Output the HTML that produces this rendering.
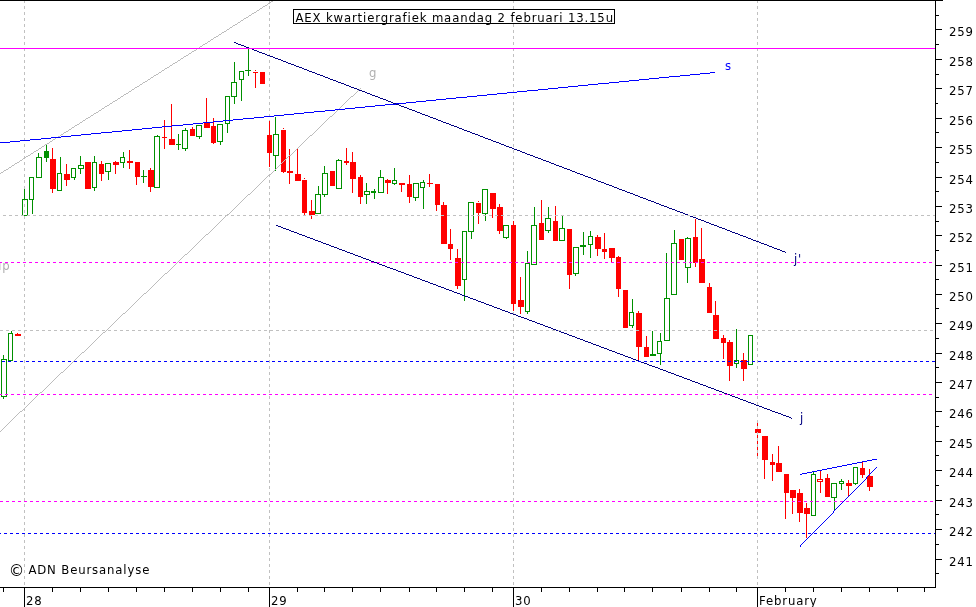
<!DOCTYPE html>
<html lang="nl">
<head>
<meta charset="utf-8">
<title>AEX kwartiergrafiek maandag 2 februari 13.15u</title>
<style>
html,body{margin:0;padding:0;background:#fff;overflow:hidden}
svg{display:block}
text{font-family:"DejaVu Sans","Liberation Sans",sans-serif;font-size:13px;}
</style>
</head>
<body>
<svg width="976" height="607" viewBox="0 0 976 607" shape-rendering="crispEdges">
<rect x="0" y="0" width="976" height="607" fill="#fff"/>
<g id="daygrid">
<line x1="24.5" y1="0" x2="24.5" y2="587" stroke="#c0c0c0" stroke-width="1" stroke-dasharray="3 3" stroke-dashoffset="0"/>
<line x1="269.5" y1="0" x2="269.5" y2="587" stroke="#c0c0c0" stroke-width="1" stroke-dasharray="3 3" stroke-dashoffset="0"/>
<line x1="513.5" y1="0" x2="513.5" y2="587" stroke="#c0c0c0" stroke-width="1" stroke-dasharray="3 3" stroke-dashoffset="0"/>
<line x1="757.5" y1="0" x2="757.5" y2="587" stroke="#c0c0c0" stroke-width="1" stroke-dasharray="3 3" stroke-dashoffset="0"/>
</g>
<g id="candles">
<rect x="3" y="355" width="1" height="4" fill="#009000"/>
<rect x="3" y="397" width="1" height="2" fill="#009000"/>
<rect x="1.5" y="359.5" width="5" height="37" fill="none" stroke="#009000" stroke-width="1"/>
<rect x="11" y="331" width="1" height="2" fill="#009000"/>
<rect x="8.5" y="333.5" width="4" height="27" fill="none" stroke="#009000" stroke-width="1"/>
<rect x="17" y="333" width="1" height="3" fill="#ff0000"/>
<rect x="15" y="334" width="6" height="2" fill="#ff0000"/>
<rect x="24" y="189" width="1" height="10" fill="#009000"/>
<rect x="22.5" y="199.5" width="5" height="16" fill="none" stroke="#009000" stroke-width="1"/>
<rect x="32" y="200" width="1" height="14" fill="#009000"/>
<rect x="29.5" y="177.5" width="4" height="22" fill="none" stroke="#009000" stroke-width="1"/>
<rect x="38" y="153" width="1" height="4" fill="#009000"/>
<rect x="36.5" y="157.5" width="5" height="20" fill="none" stroke="#009000" stroke-width="1"/>
<rect x="46" y="145" width="1" height="17" fill="#009000"/>
<rect x="44" y="151" width="5" height="7" fill="#009000"/>
<rect x="52" y="148" width="1" height="45" fill="#ff0000"/>
<rect x="50" y="159" width="6" height="30" fill="#ff0000"/>
<rect x="60" y="157" width="1" height="16" fill="#009000"/>
<rect x="57.5" y="173.5" width="4" height="17" fill="none" stroke="#009000" stroke-width="1"/>
<rect x="66" y="164" width="1" height="22" fill="#ff0000"/>
<rect x="64" y="174" width="6" height="6" fill="#ff0000"/>
<rect x="74" y="178" width="1" height="2" fill="#009000"/>
<rect x="71.5" y="168.5" width="4" height="9" fill="none" stroke="#009000" stroke-width="1"/>
<rect x="80" y="156" width="1" height="9" fill="#009000"/>
<rect x="80" y="169" width="1" height="5" fill="#009000"/>
<rect x="78.5" y="165.5" width="5" height="3" fill="none" stroke="#009000" stroke-width="1"/>
<rect x="85" y="162" width="6" height="27" fill="#ff0000"/>
<rect x="94" y="156" width="1" height="6" fill="#009000"/>
<rect x="94" y="188" width="1" height="3" fill="#009000"/>
<rect x="92.5" y="162.5" width="4" height="25" fill="none" stroke="#009000" stroke-width="1"/>
<rect x="101" y="161" width="1" height="20" fill="#ff0000"/>
<rect x="99" y="164" width="5" height="10" fill="#ff0000"/>
<rect x="108" y="172" width="1" height="8" fill="#009000"/>
<rect x="105.5" y="163.5" width="5" height="8" fill="none" stroke="#009000" stroke-width="1"/>
<rect x="115" y="161" width="1" height="13" fill="#ff0000"/>
<rect x="113" y="162" width="6" height="3" fill="#ff0000"/>
<rect x="123" y="152" width="1" height="5" fill="#009000"/>
<rect x="123" y="163" width="1" height="5" fill="#009000"/>
<rect x="120.5" y="157.5" width="4" height="5" fill="none" stroke="#009000" stroke-width="1"/>
<rect x="129" y="150" width="1" height="19" fill="#ff0000"/>
<rect x="127" y="161" width="6" height="2" fill="#ff0000"/>
<rect x="136" y="162" width="1" height="23" fill="#ff0000"/>
<rect x="135" y="162" width="5" height="15" fill="#ff0000"/>
<rect x="143" y="170" width="1" height="13" fill="#009000"/>
<rect x="141" y="176" width="6" height="1" fill="#009000"/>
<rect x="150" y="168" width="1" height="24" fill="#ff0000"/>
<rect x="148" y="170" width="6" height="17" fill="#ff0000"/>
<rect x="157" y="135" width="1" height="1" fill="#009000"/>
<rect x="154.5" y="136.5" width="5" height="51" fill="none" stroke="#009000" stroke-width="1"/>
<rect x="164" y="120" width="1" height="29" fill="#ff0000"/>
<rect x="162" y="137" width="5" height="1" fill="#ff0000"/>
<rect x="171" y="104" width="1" height="41" fill="#ff0000"/>
<rect x="169" y="139" width="6" height="6" fill="#ff0000"/>
<rect x="178" y="134" width="1" height="16" fill="#009000"/>
<rect x="176" y="144" width="5" height="1" fill="#009000"/>
<rect x="185" y="128" width="1" height="2" fill="#009000"/>
<rect x="185" y="149" width="1" height="2" fill="#009000"/>
<rect x="182.5" y="130.5" width="5" height="18" fill="none" stroke="#009000" stroke-width="1"/>
<rect x="192" y="127" width="1" height="9" fill="#ff0000"/>
<rect x="190" y="129" width="5" height="7" fill="#ff0000"/>
<rect x="199" y="137" width="1" height="2" fill="#009000"/>
<rect x="196.5" y="125.5" width="5" height="11" fill="none" stroke="#009000" stroke-width="1"/>
<rect x="206" y="98" width="1" height="30" fill="#ff0000"/>
<rect x="204" y="122" width="6" height="6" fill="#ff0000"/>
<rect x="213" y="118" width="1" height="26" fill="#ff0000"/>
<rect x="211" y="126" width="5" height="17" fill="#ff0000"/>
<rect x="220" y="142" width="1" height="3" fill="#009000"/>
<rect x="217.5" y="124.5" width="5" height="17" fill="none" stroke="#009000" stroke-width="1"/>
<rect x="227" y="124" width="1" height="9" fill="#009000"/>
<rect x="225.5" y="96.5" width="4" height="27" fill="none" stroke="#009000" stroke-width="1"/>
<rect x="234" y="62" width="1" height="20" fill="#009000"/>
<rect x="234" y="97" width="1" height="7" fill="#009000"/>
<rect x="231.5" y="82.5" width="5" height="14" fill="none" stroke="#009000" stroke-width="1"/>
<rect x="241" y="80" width="1" height="21" fill="#009000"/>
<rect x="239.5" y="71.5" width="4" height="8" fill="none" stroke="#009000" stroke-width="1"/>
<rect x="248" y="48" width="1" height="28" fill="#009000"/>
<rect x="245" y="70" width="6" height="1" fill="#009000"/>
<rect x="255" y="70" width="1" height="1" fill="#ff0000"/>
<rect x="255" y="72" width="1" height="16" fill="#ff0000"/>
<rect x="253" y="72" width="5" height="1" fill="#ff0000"/>
<rect x="260" y="72" width="5" height="12" fill="#ff0000"/>
<rect x="269" y="121" width="1" height="46" fill="#ff0000"/>
<rect x="267" y="135" width="5" height="18" fill="#ff0000"/>
<rect x="275" y="117" width="1" height="17" fill="#009000"/>
<rect x="275" y="156" width="1" height="15" fill="#009000"/>
<rect x="273.5" y="134.5" width="5" height="21" fill="none" stroke="#009000" stroke-width="1"/>
<rect x="283" y="128" width="1" height="1" fill="#ff0000"/>
<rect x="283" y="130" width="1" height="43" fill="#ff0000"/>
<rect x="281" y="130" width="5" height="42" fill="#ff0000"/>
<rect x="289" y="149" width="1" height="35" fill="#ff0000"/>
<rect x="287" y="171" width="6" height="2" fill="#ff0000"/>
<rect x="297" y="149" width="1" height="32" fill="#ff0000"/>
<rect x="295" y="174" width="6" height="7" fill="#ff0000"/>
<rect x="304" y="178" width="1" height="1" fill="#ff0000"/>
<rect x="304" y="180" width="1" height="35" fill="#ff0000"/>
<rect x="302" y="180" width="5" height="33" fill="#ff0000"/>
<rect x="311" y="200" width="1" height="19" fill="#ff0000"/>
<rect x="309" y="211" width="6" height="4" fill="#ff0000"/>
<rect x="318" y="186" width="1" height="8" fill="#009000"/>
<rect x="315.5" y="194.5" width="5" height="19" fill="none" stroke="#009000" stroke-width="1"/>
<rect x="324" y="166" width="1" height="7" fill="#009000"/>
<rect x="324" y="195" width="1" height="2" fill="#009000"/>
<rect x="322.5" y="173.5" width="5" height="21" fill="none" stroke="#009000" stroke-width="1"/>
<rect x="330" y="171" width="5" height="15" fill="#ff0000"/>
<rect x="338" y="159" width="1" height="1" fill="#009000"/>
<rect x="336.5" y="160.5" width="5" height="28" fill="none" stroke="#009000" stroke-width="1"/>
<rect x="346" y="148" width="1" height="17" fill="#ff0000"/>
<rect x="344" y="161" width="5" height="2" fill="#ff0000"/>
<rect x="352" y="152" width="1" height="41" fill="#ff0000"/>
<rect x="350" y="162" width="6" height="17" fill="#ff0000"/>
<rect x="360" y="175" width="1" height="29" fill="#ff0000"/>
<rect x="358" y="177" width="5" height="20" fill="#ff0000"/>
<rect x="366" y="183" width="1" height="8" fill="#009000"/>
<rect x="366" y="195" width="1" height="9" fill="#009000"/>
<rect x="364.5" y="191.5" width="5" height="3" fill="none" stroke="#009000" stroke-width="1"/>
<rect x="374" y="189" width="1" height="10" fill="#009000"/>
<rect x="371" y="191" width="5" height="2" fill="#009000"/>
<rect x="380" y="170" width="1" height="7" fill="#009000"/>
<rect x="378.5" y="177.5" width="5" height="15" fill="none" stroke="#009000" stroke-width="1"/>
<rect x="387" y="179" width="1" height="15" fill="#ff0000"/>
<rect x="385" y="180" width="6" height="3" fill="#ff0000"/>
<rect x="394" y="168" width="1" height="12" fill="#009000"/>
<rect x="394" y="184" width="1" height="1" fill="#009000"/>
<rect x="392.5" y="180.5" width="4" height="3" fill="none" stroke="#009000" stroke-width="1"/>
<rect x="401" y="183" width="1" height="9" fill="#ff0000"/>
<rect x="399" y="183" width="6" height="2" fill="#ff0000"/>
<rect x="409" y="175" width="1" height="28" fill="#ff0000"/>
<rect x="407" y="184" width="5" height="13" fill="#ff0000"/>
<rect x="415" y="198" width="1" height="3" fill="#009000"/>
<rect x="413.5" y="183.5" width="5" height="14" fill="none" stroke="#009000" stroke-width="1"/>
<rect x="423" y="180" width="1" height="2" fill="#009000"/>
<rect x="423" y="188" width="1" height="21" fill="#009000"/>
<rect x="420.5" y="182.5" width="4" height="5" fill="none" stroke="#009000" stroke-width="1"/>
<rect x="429" y="174" width="1" height="13" fill="#ff0000"/>
<rect x="427" y="183" width="6" height="1" fill="#ff0000"/>
<rect x="436" y="184" width="1" height="27" fill="#ff0000"/>
<rect x="435" y="184" width="5" height="21" fill="#ff0000"/>
<rect x="443" y="202" width="1" height="42" fill="#ff0000"/>
<rect x="441" y="205" width="6" height="39" fill="#ff0000"/>
<rect x="450" y="229" width="1" height="31" fill="#ff0000"/>
<rect x="448" y="244" width="5" height="5" fill="#ff0000"/>
<rect x="457" y="249" width="1" height="40" fill="#ff0000"/>
<rect x="455" y="258" width="6" height="28" fill="#ff0000"/>
<rect x="464" y="280" width="1" height="21" fill="#009000"/>
<rect x="462.5" y="231.5" width="4" height="48" fill="none" stroke="#009000" stroke-width="1"/>
<rect x="471" y="232" width="1" height="7" fill="#009000"/>
<rect x="468.5" y="202.5" width="5" height="29" fill="none" stroke="#009000" stroke-width="1"/>
<rect x="478" y="201" width="1" height="1" fill="#ff0000"/>
<rect x="478" y="203" width="1" height="21" fill="#ff0000"/>
<rect x="476" y="203" width="5" height="10" fill="#ff0000"/>
<rect x="485" y="214" width="1" height="7" fill="#009000"/>
<rect x="482.5" y="189.5" width="5" height="24" fill="none" stroke="#009000" stroke-width="1"/>
<rect x="492" y="193" width="1" height="25" fill="#ff0000"/>
<rect x="490" y="193" width="6" height="16" fill="#ff0000"/>
<rect x="499" y="204" width="1" height="30" fill="#ff0000"/>
<rect x="497" y="207" width="6" height="24" fill="#ff0000"/>
<rect x="506" y="238" width="1" height="1" fill="#009000"/>
<rect x="503.5" y="225.5" width="5" height="12" fill="none" stroke="#009000" stroke-width="1"/>
<rect x="513" y="221" width="1" height="90" fill="#ff0000"/>
<rect x="511" y="225" width="5" height="79" fill="#ff0000"/>
<rect x="520" y="277" width="1" height="37" fill="#ff0000"/>
<rect x="518" y="300" width="6" height="7" fill="#ff0000"/>
<rect x="527" y="251" width="1" height="12" fill="#009000"/>
<rect x="527" y="312" width="1" height="2" fill="#009000"/>
<rect x="525.5" y="263.5" width="4" height="48" fill="none" stroke="#009000" stroke-width="1"/>
<rect x="534" y="207" width="1" height="18" fill="#009000"/>
<rect x="531.5" y="225.5" width="5" height="39" fill="none" stroke="#009000" stroke-width="1"/>
<rect x="541" y="200" width="1" height="40" fill="#ff0000"/>
<rect x="539" y="223" width="5" height="17" fill="#ff0000"/>
<rect x="548" y="207" width="1" height="11" fill="#009000"/>
<rect x="548" y="231" width="1" height="2" fill="#009000"/>
<rect x="545.5" y="218.5" width="5" height="12" fill="none" stroke="#009000" stroke-width="1"/>
<rect x="555" y="206" width="1" height="35" fill="#ff0000"/>
<rect x="553" y="221" width="5" height="20" fill="#ff0000"/>
<rect x="562" y="216" width="1" height="12" fill="#009000"/>
<rect x="559.5" y="228.5" width="5" height="12" fill="none" stroke="#009000" stroke-width="1"/>
<rect x="569" y="229" width="1" height="60" fill="#ff0000"/>
<rect x="567" y="229" width="5" height="46" fill="#ff0000"/>
<rect x="575" y="274" width="1" height="2" fill="#009000"/>
<rect x="573.5" y="247.5" width="5" height="26" fill="none" stroke="#009000" stroke-width="1"/>
<rect x="583" y="232" width="1" height="23" fill="#009000"/>
<rect x="580" y="245" width="6" height="2" fill="#009000"/>
<rect x="590" y="231" width="1" height="5" fill="#009000"/>
<rect x="590" y="245" width="1" height="13" fill="#009000"/>
<rect x="588.5" y="236.5" width="4" height="8" fill="none" stroke="#009000" stroke-width="1"/>
<rect x="597" y="235" width="1" height="21" fill="#ff0000"/>
<rect x="595" y="237" width="6" height="12" fill="#ff0000"/>
<rect x="604" y="233" width="1" height="26" fill="#ff0000"/>
<rect x="602" y="249" width="5" height="3" fill="#ff0000"/>
<rect x="611" y="248" width="1" height="14" fill="#ff0000"/>
<rect x="609" y="248" width="6" height="10" fill="#ff0000"/>
<rect x="618" y="256" width="1" height="41" fill="#ff0000"/>
<rect x="616" y="257" width="5" height="32" fill="#ff0000"/>
<rect x="623" y="290" width="5" height="38" fill="#ff0000"/>
<rect x="632" y="299" width="1" height="13" fill="#009000"/>
<rect x="632" y="326" width="1" height="2" fill="#009000"/>
<rect x="629.5" y="312.5" width="4" height="13" fill="none" stroke="#009000" stroke-width="1"/>
<rect x="638" y="311" width="1" height="50" fill="#ff0000"/>
<rect x="636" y="313" width="6" height="34" fill="#ff0000"/>
<rect x="646" y="336" width="1" height="21" fill="#ff0000"/>
<rect x="644" y="347" width="5" height="10" fill="#ff0000"/>
<rect x="652" y="331" width="1" height="25" fill="#009000"/>
<rect x="650" y="354" width="6" height="2" fill="#009000"/>
<rect x="660" y="333" width="1" height="8" fill="#009000"/>
<rect x="660" y="354" width="1" height="11" fill="#009000"/>
<rect x="657.5" y="341.5" width="4" height="12" fill="none" stroke="#009000" stroke-width="1"/>
<rect x="666" y="253" width="1" height="45" fill="#009000"/>
<rect x="664.5" y="298.5" width="5" height="42" fill="none" stroke="#009000" stroke-width="1"/>
<rect x="674" y="230" width="1" height="13" fill="#009000"/>
<rect x="671.5" y="243.5" width="5" height="51" fill="none" stroke="#009000" stroke-width="1"/>
<rect x="679" y="239" width="5" height="21" fill="#ff0000"/>
<rect x="687" y="237" width="1" height="1" fill="#009000"/>
<rect x="687" y="268" width="1" height="15" fill="#009000"/>
<rect x="685.5" y="238.5" width="5" height="29" fill="none" stroke="#009000" stroke-width="1"/>
<rect x="695" y="219" width="1" height="48" fill="#ff0000"/>
<rect x="693" y="237" width="5" height="26" fill="#ff0000"/>
<rect x="701" y="228" width="1" height="55" fill="#ff0000"/>
<rect x="699" y="259" width="6" height="24" fill="#ff0000"/>
<rect x="709" y="283" width="1" height="30" fill="#ff0000"/>
<rect x="707" y="287" width="5" height="26" fill="#ff0000"/>
<rect x="715" y="301" width="1" height="38" fill="#ff0000"/>
<rect x="713" y="315" width="6" height="24" fill="#ff0000"/>
<rect x="723" y="335" width="1" height="24" fill="#ff0000"/>
<rect x="721" y="338" width="5" height="5" fill="#ff0000"/>
<rect x="729" y="340" width="1" height="41" fill="#ff0000"/>
<rect x="727" y="342" width="6" height="24" fill="#ff0000"/>
<rect x="736" y="329" width="1" height="31" fill="#009000"/>
<rect x="736" y="364" width="1" height="4" fill="#009000"/>
<rect x="734.5" y="360.5" width="4" height="3" fill="none" stroke="#009000" stroke-width="1"/>
<rect x="743" y="353" width="1" height="28" fill="#ff0000"/>
<rect x="741" y="360" width="6" height="9" fill="#ff0000"/>
<rect x="748.5" y="335.5" width="4" height="29" fill="none" stroke="#009000" stroke-width="1"/>
<rect x="757" y="423" width="1" height="34" fill="#ff0000"/>
<rect x="755" y="429" width="6" height="4" fill="#ff0000"/>
<rect x="757" y="426" width="1" height="3" fill="#c0c0c0"/>
<rect x="757" y="432" width="1" height="3" fill="#c0c0c0"/>
<rect x="757" y="438" width="1" height="3" fill="#c0c0c0"/>
<rect x="757" y="444" width="1" height="3" fill="#c0c0c0"/>
<rect x="757" y="450" width="1" height="3" fill="#c0c0c0"/>
<rect x="757" y="456" width="1" height="1" fill="#c0c0c0"/>
<rect x="764" y="436" width="1" height="43" fill="#ff0000"/>
<rect x="762" y="436" width="6" height="24" fill="#ff0000"/>
<rect x="772" y="454" width="1" height="27" fill="#ff0000"/>
<rect x="770" y="462" width="5" height="3" fill="#ff0000"/>
<rect x="778" y="446" width="1" height="26" fill="#ff0000"/>
<rect x="776" y="463" width="6" height="9" fill="#ff0000"/>
<rect x="785" y="474" width="1" height="45" fill="#ff0000"/>
<rect x="784" y="474" width="5" height="19" fill="#ff0000"/>
<rect x="792" y="490" width="1" height="24" fill="#ff0000"/>
<rect x="790" y="490" width="6" height="8" fill="#ff0000"/>
<rect x="799" y="489" width="1" height="33" fill="#ff0000"/>
<rect x="797" y="493" width="6" height="20" fill="#ff0000"/>
<rect x="806" y="503" width="1" height="35" fill="#ff0000"/>
<rect x="804" y="508" width="6" height="6" fill="#ff0000"/>
<rect x="813" y="472" width="1" height="2" fill="#009000"/>
<rect x="811.5" y="474.5" width="4" height="41" fill="none" stroke="#009000" stroke-width="1"/>
<rect x="820" y="471" width="1" height="8" fill="#ff0000"/>
<rect x="820" y="482" width="1" height="11" fill="#ff0000"/>
<rect x="817.5" y="479.5" width="5" height="2" fill="none" stroke="#ff0000" stroke-width="1"/>
<rect x="827" y="474" width="1" height="23" fill="#ff0000"/>
<rect x="825" y="478" width="5" height="19" fill="#ff0000"/>
<rect x="834" y="498" width="1" height="12" fill="#009000"/>
<rect x="831.5" y="483.5" width="5" height="14" fill="none" stroke="#009000" stroke-width="1"/>
<rect x="841" y="479" width="1" height="2" fill="#009000"/>
<rect x="841" y="484" width="1" height="6" fill="#009000"/>
<rect x="839.5" y="481.5" width="4" height="2" fill="none" stroke="#009000" stroke-width="1"/>
<rect x="848" y="480" width="1" height="16" fill="#ff0000"/>
<rect x="846" y="483" width="6" height="3" fill="#ff0000"/>
<rect x="855" y="484" width="1" height="1" fill="#009000"/>
<rect x="853.5" y="467.5" width="4" height="16" fill="none" stroke="#009000" stroke-width="1"/>
<rect x="862" y="462" width="1" height="16" fill="#ff0000"/>
<rect x="860" y="468" width="5" height="7" fill="#ff0000"/>
<rect x="869" y="469" width="1" height="22" fill="#ff0000"/>
<rect x="867" y="476" width="6" height="11" fill="#ff0000"/>
</g>
<g id="trend">
<path d="M0 173.5h1M1 172.5h2M3 171.5h1M4 170.5h2M6 169.5h2M8 168.5h1M9 167.5h2M11 166.5h1M12 165.5h2M14 164.5h1M15 163.5h2M17 162.5h2M19 161.5h1M20 160.5h2M22 159.5h1M23 158.5h2M25 157.5h1M26 156.5h2M28 155.5h2M30 154.5h1M31 153.5h2M33 152.5h1M34 151.5h2M36 150.5h2M38 149.5h1M39 148.5h2M41 147.5h1M42 146.5h2M44 145.5h1M45 144.5h2M47 143.5h2M49 142.5h1M50 141.5h2M52 140.5h1M53 139.5h2M55 138.5h1M56 137.5h2M58 136.5h2M60 135.5h1M61 134.5h2M63 133.5h1M64 132.5h2M66 131.5h2M68 130.5h1M69 129.5h2M71 128.5h1M72 127.5h2M74 126.5h1M75 125.5h2M77 124.5h2M79 123.5h1M80 122.5h2M82 121.5h1M83 120.5h2M85 119.5h1M86 118.5h2M88 117.5h2M90 116.5h1M91 115.5h2M93 114.5h1M94 113.5h2M96 112.5h2M98 111.5h1M99 110.5h2M101 109.5h1M102 108.5h2M104 107.5h1M105 106.5h2M107 105.5h2M109 104.5h1M110 103.5h2M112 102.5h1M113 101.5h2M115 100.5h2M117 99.5h1M118 98.5h2M120 97.5h1M121 96.5h2M123 95.5h1M124 94.5h2M126 93.5h2M128 92.5h1M129 91.5h2M131 90.5h1M132 89.5h2M134 88.5h1M135 87.5h2M137 86.5h2M139 85.5h1M140 84.5h2M142 83.5h1M143 82.5h2M145 81.5h2M147 80.5h1M148 79.5h2M150 78.5h1M151 77.5h2M153 76.5h1M154 75.5h2M156 74.5h2M158 73.5h1M159 72.5h2M161 71.5h1M162 70.5h2M164 69.5h1M165 68.5h2M167 67.5h2M169 66.5h1M170 65.5h2M172 64.5h1M173 63.5h2M175 62.5h2M177 61.5h1M178 60.5h2M180 59.5h1M181 58.5h2M183 57.5h1M184 56.5h2M186 55.5h2M188 54.5h1M189 53.5h2M191 52.5h1M192 51.5h2M194 50.5h2M196 49.5h1M197 48.5h2M199 47.5h1M200 46.5h2M202 45.5h1M203 44.5h2M205 43.5h2M207 42.5h1M208 41.5h2M210 40.5h1M211 39.5h2M213 38.5h1M214 37.5h2M216 36.5h2M218 35.5h1M219 34.5h2M221 33.5h1M222 32.5h2M224 31.5h2M226 30.5h1M227 29.5h2M229 28.5h1M230 27.5h2M232 26.5h1M233 25.5h2M235 24.5h2M237 23.5h1M238 22.5h2M240 21.5h1M241 20.5h2M243 19.5h1M244 18.5h2M246 17.5h2M248 16.5h1M249 15.5h2M251 14.5h1M252 13.5h2M254 12.5h2M256 11.5h1M257 10.5h2M259 9.5h1M260 8.5h2M262 7.5h1M263 6.5h2M265 5.5h2M267 4.5h1M268 3.5h2M270 2.5h1M271 1.5h2M273 0.5h2" stroke="#bcbcbc" stroke-width="1" fill="none"/>
<path d="M0 431.5h1M1 430.5h1M2 429.5h1M3 428.5h1M4 427.5h1M5 426.5h1M6 425.5h1M7 424.5h1M8 423.5h1M9 422.5h1M10 421.5h1M11 420.5h1M12 419.5h1M13 418.5h1M14 417.5h1M15 416.5h1M16 415.5h1M17 414.5h1M18 413.5h1M19 412.5h1M20 411.5h2M22 410.5h1M23 409.5h1M24 408.5h1M25 407.5h1M26 406.5h1M27 405.5h1M28 404.5h1M29 403.5h1M30 402.5h1M31 401.5h1M32 400.5h1M33 399.5h1M34 398.5h1M35 397.5h1M36 396.5h1M37 395.5h1M38 394.5h1M39 393.5h1M40 392.5h2M42 391.5h1M43 390.5h1M44 389.5h1M45 388.5h1M46 387.5h1M47 386.5h1M48 385.5h1M49 384.5h1M50 383.5h1M51 382.5h1M52 381.5h1M53 380.5h1M54 379.5h1M55 378.5h1M56 377.5h1M57 376.5h1M58 375.5h1M59 374.5h1M60 373.5h1M61 372.5h2M63 371.5h1M64 370.5h1M65 369.5h1M66 368.5h1M67 367.5h1M68 366.5h1M69 365.5h1M70 364.5h1M71 363.5h1M72 362.5h1M73 361.5h1M74 360.5h1M75 359.5h1M76 358.5h1M77 357.5h1M78 356.5h1M79 355.5h1M80 354.5h1M81 353.5h1M82 352.5h2M84 351.5h1M85 350.5h1M86 349.5h1M87 348.5h1M88 347.5h1M89 346.5h1M90 345.5h1M91 344.5h1M92 343.5h1M93 342.5h1M94 341.5h1M95 340.5h1M96 339.5h1M97 338.5h1M98 337.5h1M99 336.5h1M100 335.5h1M101 334.5h1M102 333.5h1M103 332.5h2M105 331.5h1M106 330.5h1M107 329.5h1M108 328.5h1M109 327.5h1M110 326.5h1M111 325.5h1M112 324.5h1M113 323.5h1M114 322.5h1M115 321.5h1M116 320.5h1M117 319.5h1M118 318.5h1M119 317.5h1M120 316.5h1M121 315.5h1M122 314.5h1M123 313.5h2M125 312.5h1M126 311.5h1M127 310.5h1M128 309.5h1M129 308.5h1M130 307.5h1M131 306.5h1M132 305.5h1M133 304.5h1M134 303.5h1M135 302.5h1M136 301.5h1M137 300.5h1M138 299.5h1M139 298.5h1M140 297.5h1M141 296.5h1M142 295.5h1M143 294.5h1M144 293.5h2M146 292.5h1M147 291.5h1M148 290.5h1M149 289.5h1M150 288.5h1M151 287.5h1M152 286.5h1M153 285.5h1M154 284.5h1M155 283.5h1M156 282.5h1M157 281.5h1M158 280.5h1M159 279.5h1M160 278.5h1M161 277.5h1M162 276.5h1M163 275.5h1M164 274.5h1M165 273.5h2M167 272.5h1M168 271.5h1M169 270.5h1M170 269.5h1M171 268.5h1M172 267.5h1M173 266.5h1M174 265.5h1M175 264.5h1M176 263.5h1M177 262.5h1M178 261.5h1M179 260.5h1M180 259.5h1M181 258.5h1M182 257.5h1M183 256.5h1M184 255.5h1M185 254.5h2M187 253.5h1M188 252.5h1M189 251.5h1M190 250.5h1M191 249.5h1M192 248.5h1M193 247.5h1M194 246.5h1M195 245.5h1M196 244.5h1M197 243.5h1M198 242.5h1M199 241.5h1M200 240.5h1M201 239.5h1M202 238.5h1M203 237.5h1M204 236.5h1M205 235.5h1M206 234.5h2M208 233.5h1M209 232.5h1M210 231.5h1M211 230.5h1M212 229.5h1M213 228.5h1M214 227.5h1M215 226.5h1M216 225.5h1M217 224.5h1M218 223.5h1M219 222.5h1M220 221.5h1M221 220.5h1M222 219.5h1M223 218.5h1M224 217.5h1M225 216.5h1M226 215.5h1M227 214.5h2M229 213.5h1M230 212.5h1M231 211.5h1M232 210.5h1M233 209.5h1M234 208.5h1M235 207.5h1M236 206.5h1M237 205.5h1M238 204.5h1M239 203.5h1M240 202.5h1M241 201.5h1M242 200.5h1M243 199.5h1M244 198.5h1M245 197.5h1M246 196.5h1M247 195.5h1M248 194.5h2M250 193.5h1M251 192.5h1M252 191.5h1M253 190.5h1M254 189.5h1M255 188.5h1M256 187.5h1M257 186.5h1M258 185.5h1M259 184.5h1M260 183.5h1M261 182.5h1M262 181.5h1M263 180.5h1M264 179.5h1M265 178.5h1M266 177.5h1M267 176.5h1M268 175.5h2M270 174.5h1M271 173.5h1M272 172.5h1M273 171.5h1M274 170.5h1M275 169.5h1M276 168.5h1M277 167.5h1M278 166.5h1M279 165.5h1M280 164.5h1M281 163.5h1M282 162.5h1M283 161.5h1M284 160.5h1M285 159.5h1M286 158.5h1M287 157.5h1M288 156.5h1M289 155.5h2M291 154.5h1M292 153.5h1M293 152.5h1M294 151.5h1M295 150.5h1M296 149.5h1M297 148.5h1M298 147.5h1M299 146.5h1M300 145.5h1M301 144.5h1M302 143.5h1M303 142.5h1M304 141.5h1M305 140.5h1M306 139.5h1M307 138.5h1M308 137.5h1M309 136.5h1M310 135.5h2M312 134.5h1M313 133.5h1M314 132.5h1M315 131.5h1M316 130.5h1M317 129.5h1M318 128.5h1M319 127.5h1M320 126.5h1M321 125.5h1M322 124.5h1M323 123.5h1M324 122.5h1M325 121.5h1M326 120.5h1M327 119.5h1M328 118.5h1M329 117.5h1M330 116.5h2M332 115.5h1M333 114.5h1M334 113.5h1M335 112.5h1M336 111.5h1M337 110.5h1M338 109.5h1M339 108.5h1M340 107.5h1M341 106.5h1M342 105.5h1M343 104.5h1M344 103.5h1M345 102.5h1M346 101.5h1M347 100.5h1M348 99.5h1M349 98.5h1M350 97.5h1M351 96.5h2M353 95.5h1M354 94.5h1M355 93.5h1M356 92.5h1M357 91.5h1M358 90.5h1M359 89.5h1M360 88.5h1" stroke="#bcbcbc" stroke-width="1" fill="none"/>
<path d="M0 142.5h10M10 141.5h10M20 140.5h10M30 139.5h11M41 138.5h10M51 137.5h10M61 136.5h10M71 135.5h10M81 134.5h10M91 133.5h10M101 132.5h11M112 131.5h10M122 130.5h10M132 129.5h10M142 128.5h10M152 127.5h10M162 126.5h10M172 125.5h11M183 124.5h10M193 123.5h10M203 122.5h10M213 121.5h10M223 120.5h10M233 119.5h10M243 118.5h11M254 117.5h10M264 116.5h10M274 115.5h10M284 114.5h10M294 113.5h10M304 112.5h10M314 111.5h11M325 110.5h10M335 109.5h10M345 108.5h10M355 107.5h10M365 106.5h10M375 105.5h10M385 104.5h11M396 103.5h10M406 102.5h10M416 101.5h10M426 100.5h10M436 99.5h10M446 98.5h10M456 97.5h11M467 96.5h10M477 95.5h10M487 94.5h10M497 93.5h10M507 92.5h10M517 91.5h10M527 90.5h11M538 89.5h10M548 88.5h10M558 87.5h10M568 86.5h10M578 85.5h10M588 84.5h10M598 83.5h11M609 82.5h10M619 81.5h10M629 80.5h10M639 79.5h10M649 78.5h10M659 77.5h10M669 76.5h11M680 75.5h10M690 74.5h10M700 73.5h10M710 72.5h5" stroke="#0000ff" stroke-width="1" fill="none"/>
<path d="M234 42.5h2M236 43.5h2M238 44.5h3M241 45.5h3M244 46.5h2M246 47.5h3M249 48.5h3M252 49.5h2M254 50.5h3M257 51.5h2M259 52.5h3M262 53.5h3M265 54.5h2M267 55.5h3M270 56.5h3M273 57.5h2M275 58.5h3M278 59.5h3M281 60.5h2M283 61.5h3M286 62.5h2M288 63.5h3M291 64.5h3M294 65.5h2M296 66.5h3M299 67.5h3M302 68.5h2M304 69.5h3M307 70.5h2M309 71.5h3M312 72.5h3M315 73.5h2M317 74.5h3M320 75.5h3M323 76.5h2M325 77.5h3M328 78.5h2M330 79.5h3M333 80.5h3M336 81.5h2M338 82.5h3M341 83.5h3M344 84.5h2M346 85.5h3M349 86.5h2M351 87.5h3M354 88.5h3M357 89.5h2M359 90.5h3M362 91.5h3M365 92.5h2M367 93.5h3M370 94.5h2M372 95.5h3M375 96.5h3M378 97.5h2M380 98.5h3M383 99.5h3M386 100.5h2M388 101.5h3M391 102.5h2M393 103.5h3M396 104.5h3M399 105.5h2M401 106.5h3M404 107.5h3M407 108.5h2M409 109.5h3M412 110.5h3M415 111.5h2M417 112.5h3M420 113.5h2M422 114.5h3M425 115.5h3M428 116.5h2M430 117.5h3M433 118.5h3M436 119.5h2M438 120.5h3M441 121.5h2M443 122.5h3M446 123.5h3M449 124.5h2M451 125.5h3M454 126.5h3M457 127.5h2M459 128.5h3M462 129.5h2M464 130.5h3M467 131.5h3M470 132.5h2M472 133.5h3M475 134.5h3M478 135.5h2M480 136.5h3M483 137.5h2M485 138.5h3M488 139.5h3M491 140.5h2M493 141.5h3M496 142.5h3M499 143.5h2M501 144.5h3M504 145.5h2M506 146.5h3M509 147.5h3M512 148.5h2M514 149.5h3M517 150.5h3M520 151.5h2M522 152.5h3M525 153.5h2M527 154.5h3M530 155.5h3M533 156.5h2M535 157.5h3M538 158.5h3M541 159.5h2M543 160.5h3M546 161.5h3M549 162.5h2M551 163.5h3M554 164.5h2M556 165.5h3M559 166.5h3M562 167.5h2M564 168.5h3M567 169.5h3M570 170.5h2M572 171.5h3M575 172.5h2M577 173.5h3M580 174.5h3M583 175.5h2M585 176.5h3M588 177.5h3M591 178.5h2M593 179.5h3M596 180.5h2M598 181.5h3M601 182.5h3M604 183.5h2M606 184.5h3M609 185.5h3M612 186.5h2M614 187.5h3M617 188.5h2M619 189.5h3M622 190.5h3M625 191.5h2M627 192.5h3M630 193.5h3M633 194.5h2M635 195.5h3M638 196.5h2M640 197.5h3M643 198.5h3M646 199.5h2M648 200.5h3M651 201.5h3M654 202.5h2M656 203.5h3M659 204.5h2M661 205.5h3M664 206.5h3M667 207.5h2M669 208.5h3M672 209.5h3M675 210.5h2M677 211.5h3M680 212.5h3M683 213.5h2M685 214.5h3M688 215.5h2M690 216.5h3M693 217.5h3M696 218.5h2M698 219.5h3M701 220.5h3M704 221.5h2M706 222.5h3M709 223.5h2M711 224.5h3M714 225.5h3M717 226.5h2M719 227.5h3M722 228.5h3M725 229.5h2M727 230.5h3M730 231.5h2M732 232.5h3M735 233.5h3M738 234.5h2M740 235.5h3M743 236.5h3M746 237.5h2M748 238.5h3M751 239.5h2M753 240.5h3M756 241.5h3M759 242.5h2M761 243.5h3M764 244.5h3M767 245.5h2M769 246.5h3M772 247.5h2M774 248.5h3M777 249.5h3M780 250.5h2M782 251.5h3M785 252.5h1" stroke="#000080" stroke-width="1" fill="none"/>
<path d="M276 225.5h2M278 226.5h3M281 227.5h2M283 228.5h3M286 229.5h3M289 230.5h2M291 231.5h3M294 232.5h3M297 233.5h2M299 234.5h3M302 235.5h3M305 236.5h2M307 237.5h3M310 238.5h3M313 239.5h2M315 240.5h3M318 241.5h3M321 242.5h2M323 243.5h3M326 244.5h3M329 245.5h2M331 246.5h3M334 247.5h3M337 248.5h2M339 249.5h3M342 250.5h3M345 251.5h2M347 252.5h3M350 253.5h3M353 254.5h2M355 255.5h3M358 256.5h3M361 257.5h2M363 258.5h3M366 259.5h3M369 260.5h2M371 261.5h3M374 262.5h3M377 263.5h2M379 264.5h3M382 265.5h3M385 266.5h2M387 267.5h3M390 268.5h3M393 269.5h3M396 270.5h2M398 271.5h3M401 272.5h3M404 273.5h2M406 274.5h3M409 275.5h3M412 276.5h2M414 277.5h3M417 278.5h3M420 279.5h2M422 280.5h3M425 281.5h3M428 282.5h2M430 283.5h3M433 284.5h3M436 285.5h2M438 286.5h3M441 287.5h3M444 288.5h2M446 289.5h3M449 290.5h3M452 291.5h2M454 292.5h3M457 293.5h3M460 294.5h2M462 295.5h3M465 296.5h3M468 297.5h2M470 298.5h3M473 299.5h3M476 300.5h2M478 301.5h3M481 302.5h3M484 303.5h2M486 304.5h3M489 305.5h3M492 306.5h2M494 307.5h3M497 308.5h3M500 309.5h2M502 310.5h3M505 311.5h3M508 312.5h2M510 313.5h3M513 314.5h3M516 315.5h2M518 316.5h3M521 317.5h3M524 318.5h3M527 319.5h2M529 320.5h3M532 321.5h3M535 322.5h2M537 323.5h3M540 324.5h3M543 325.5h2M545 326.5h3M548 327.5h3M551 328.5h2M553 329.5h3M556 330.5h3M559 331.5h2M561 332.5h3M564 333.5h3M567 334.5h2M569 335.5h3M572 336.5h3M575 337.5h2M577 338.5h3M580 339.5h3M583 340.5h2M585 341.5h3M588 342.5h3M591 343.5h2M593 344.5h3M596 345.5h3M599 346.5h2M601 347.5h3M604 348.5h3M607 349.5h2M609 350.5h3M612 351.5h3M615 352.5h2M617 353.5h3M620 354.5h3M623 355.5h2M625 356.5h3M628 357.5h3M631 358.5h2M633 359.5h3M636 360.5h3M639 361.5h2M641 362.5h3M644 363.5h3M647 364.5h2M649 365.5h3M652 366.5h3M655 367.5h3M658 368.5h2M660 369.5h3M663 370.5h3M666 371.5h2M668 372.5h3M671 373.5h3M674 374.5h2M676 375.5h3M679 376.5h3M682 377.5h2M684 378.5h3M687 379.5h3M690 380.5h2M692 381.5h3M695 382.5h3M698 383.5h2M700 384.5h3M703 385.5h3M706 386.5h2M708 387.5h3M711 388.5h3M714 389.5h2M716 390.5h3M719 391.5h3M722 392.5h2M724 393.5h3M727 394.5h3M730 395.5h2M732 396.5h3M735 397.5h3M738 398.5h2M740 399.5h3M743 400.5h3M746 401.5h2M748 402.5h3M751 403.5h3M754 404.5h2M756 405.5h3M759 406.5h3M762 407.5h2M764 408.5h3M767 409.5h3M770 410.5h2M772 411.5h3M775 412.5h3M778 413.5h3M781 414.5h2M783 415.5h3M786 416.5h3M789 417.5h2M791 418.5h1" stroke="#000080" stroke-width="1" fill="none"/>
<path d="M800 474.5h2M802 473.5h5M807 472.5h5M812 471.5h5M817 470.5h5M822 469.5h5M827 468.5h5M832 467.5h5M837 466.5h5M842 465.5h5M847 464.5h5M852 463.5h5M857 462.5h5M862 461.5h5M867 460.5h5M872 459.5h5" stroke="#0000ff" stroke-width="1" fill="none"/>
<path d="M876.5 467v1M875.5 468v1M874.5 469v1M873.5 470v1M872.5 471v1M871.5 472v1M870.5 473v1M869.5 474v1M868.5 475v1M867.5 476v1M866.5 477v2M865.5 479v1M864.5 480v1M863.5 481v1M862.5 482v1M861.5 483v1M860.5 484v1M859.5 485v1M858.5 486v1M857.5 487v1M856.5 488v1M855.5 489v1M854.5 490v1M853.5 491v1M852.5 492v1M851.5 493v1M850.5 494v1M849.5 495v1M848.5 496v1M847.5 497v1M846.5 498v1M845.5 499v1M844.5 500v1M843.5 501v1M842.5 502v1M841.5 503v1M840.5 504v1M839.5 505v1M838.5 506v1M837.5 507v1M836.5 508v1M835.5 509v1M834.5 510v1M833.5 511v2M832.5 513v1M831.5 514v1M830.5 515v1M829.5 516v1M828.5 517v1M827.5 518v1M826.5 519v1M825.5 520v1M824.5 521v1M823.5 522v1M822.5 523v1M821.5 524v1M820.5 525v1M819.5 526v1M818.5 527v1M817.5 528v1M816.5 529v1M815.5 530v1M814.5 531v1M813.5 532v1M812.5 533v1M811.5 534v1M810.5 535v1M809.5 536v1M808.5 537v1M807.5 538v1M806.5 539v1M805.5 540v1M804.5 541v1M803.5 542v1M802.5 543v1M801.5 544v1M800.5 545v2" stroke="#0000ff" stroke-width="1" fill="none"/>
</g>
<g id="grid">
<line x1="0" y1="48.5" x2="935" y2="48.5" stroke="#ff00ff" stroke-width="1"/>
<line x1="-3" y1="215.5" x2="935" y2="215.5" stroke="#c0c0c0" stroke-width="1" stroke-dasharray="3 3" stroke-dashoffset="0"/>
<line x1="-6" y1="330.5" x2="935" y2="330.5" stroke="#c0c0c0" stroke-width="1" stroke-dasharray="3 3" stroke-dashoffset="0"/>
<line x1="-1" y1="262.5" x2="935" y2="262.5" stroke="#ff00ff" stroke-width="1" stroke-dasharray="3 3" stroke-dashoffset="0"/>
<line x1="-1" y1="394.5" x2="935" y2="394.5" stroke="#ff00ff" stroke-width="1" stroke-dasharray="3 3" stroke-dashoffset="0"/>
<line x1="-6" y1="501.5" x2="935" y2="501.5" stroke="#ff00ff" stroke-width="1" stroke-dasharray="3 3" stroke-dashoffset="0"/>
<line x1="-4" y1="361.5" x2="935" y2="361.5" stroke="#0000ff" stroke-width="1" stroke-dasharray="3 3" stroke-dashoffset="0"/>
<line x1="-2" y1="533.5" x2="935" y2="533.5" stroke="#0000ff" stroke-width="1" stroke-dasharray="3 3" stroke-dashoffset="0"/>
</g>
<g id="axes">
<rect x="0" y="0" width="943" height="1" fill="#000"/>
<rect x="935" y="0" width="1" height="588" fill="#000"/>
<rect x="0" y="587" width="936" height="1" fill="#000"/>
<rect x="935" y="29" width="7" height="1" fill="#000"/>
<text transform="matrix(0.9 0 0 1 949 36)" letter-spacing="0.944" fill="#000">259</text>
<rect x="935" y="59" width="7" height="1" fill="#000"/>
<text transform="matrix(0.9 0 0 1 949 66)" letter-spacing="0.944" fill="#000">258</text>
<rect x="935" y="88" width="7" height="1" fill="#000"/>
<text transform="matrix(0.9 0 0 1 949 95)" letter-spacing="0.944" fill="#000">257</text>
<rect x="935" y="118" width="7" height="1" fill="#000"/>
<text transform="matrix(0.9 0 0 1 949 125)" letter-spacing="0.944" fill="#000">256</text>
<rect x="935" y="147" width="7" height="1" fill="#000"/>
<text transform="matrix(0.9 0 0 1 949 154)" letter-spacing="0.944" fill="#000">255</text>
<rect x="935" y="177" width="7" height="1" fill="#000"/>
<text transform="matrix(0.9 0 0 1 949 184)" letter-spacing="0.944" fill="#000">254</text>
<rect x="935" y="206" width="7" height="1" fill="#000"/>
<text transform="matrix(0.9 0 0 1 949 213)" letter-spacing="0.944" fill="#000">253</text>
<rect x="935" y="235" width="7" height="1" fill="#000"/>
<text transform="matrix(0.9 0 0 1 949 242)" letter-spacing="0.944" fill="#000">252</text>
<rect x="935" y="265" width="7" height="1" fill="#000"/>
<text transform="matrix(0.9 0 0 1 949 272)" letter-spacing="0.944" fill="#000">251</text>
<rect x="935" y="294" width="7" height="1" fill="#000"/>
<text transform="matrix(0.9 0 0 1 949 301)" letter-spacing="0.944" fill="#000">250</text>
<rect x="935" y="323" width="7" height="1" fill="#000"/>
<text transform="matrix(0.9 0 0 1 949 330)" letter-spacing="0.944" fill="#000">249</text>
<rect x="935" y="353" width="7" height="1" fill="#000"/>
<text transform="matrix(0.9 0 0 1 949 360)" letter-spacing="0.944" fill="#000">248</text>
<rect x="935" y="382" width="7" height="1" fill="#000"/>
<text transform="matrix(0.9 0 0 1 949 389)" letter-spacing="0.944" fill="#000">247</text>
<rect x="935" y="411" width="7" height="1" fill="#000"/>
<text transform="matrix(0.9 0 0 1 949 418)" letter-spacing="0.944" fill="#000">246</text>
<rect x="935" y="441" width="7" height="1" fill="#000"/>
<text transform="matrix(0.9 0 0 1 949 448)" letter-spacing="0.944" fill="#000">245</text>
<rect x="935" y="470" width="7" height="1" fill="#000"/>
<text transform="matrix(0.9 0 0 1 949 477)" letter-spacing="0.944" fill="#000">244</text>
<rect x="935" y="500" width="7" height="1" fill="#000"/>
<text transform="matrix(0.9 0 0 1 949 507)" letter-spacing="0.944" fill="#000">243</text>
<rect x="935" y="529" width="7" height="1" fill="#000"/>
<text transform="matrix(0.9 0 0 1 949 536)" letter-spacing="0.944" fill="#000">242</text>
<rect x="935" y="559" width="7" height="1" fill="#000"/>
<text transform="matrix(0.9 0 0 1 949 566)" letter-spacing="0.944" fill="#000">241</text>
<rect x="935" y="15" width="4" height="1" fill="#000"/>
<rect x="935" y="44" width="4" height="1" fill="#000"/>
<rect x="935" y="74" width="4" height="1" fill="#000"/>
<rect x="935" y="103" width="3" height="1" fill="#000"/>
<rect x="935" y="132" width="4" height="1" fill="#000"/>
<rect x="935" y="162" width="4" height="1" fill="#000"/>
<rect x="935" y="191" width="4" height="1" fill="#000"/>
<rect x="935" y="221" width="4" height="1" fill="#000"/>
<rect x="935" y="250" width="4" height="1" fill="#000"/>
<rect x="935" y="279" width="4" height="1" fill="#000"/>
<rect x="935" y="308" width="4" height="1" fill="#000"/>
<rect x="935" y="338" width="4" height="1" fill="#000"/>
<rect x="935" y="367" width="4" height="1" fill="#000"/>
<rect x="935" y="397" width="4" height="1" fill="#000"/>
<rect x="935" y="426" width="4" height="1" fill="#000"/>
<rect x="935" y="455" width="4" height="1" fill="#000"/>
<rect x="935" y="485" width="4" height="1" fill="#000"/>
<rect x="935" y="514" width="4" height="1" fill="#000"/>
<rect x="935" y="544" width="4" height="1" fill="#000"/>
<rect x="935" y="573" width="4" height="1" fill="#000"/>
<rect x="24" y="587" width="1" height="20" fill="#000"/>
<text transform="matrix(0.9 0 0 1 26 605)" letter-spacing="0.944" fill="#000">28</text>
<rect x="269" y="587" width="1" height="20" fill="#000"/>
<text transform="matrix(0.9 0 0 1 271 605)" letter-spacing="0.944" fill="#000">29</text>
<rect x="513" y="587" width="1" height="20" fill="#000"/>
<text transform="matrix(0.9 0 0 1 515 605)" letter-spacing="0.944" fill="#000">30</text>
<rect x="757" y="587" width="1" height="20" fill="#000"/>
<text transform="matrix(0.9 0 0 1 759 605)" letter-spacing="0.944" fill="#000">February</text>
<rect x="3" y="587" width="1" height="5" fill="#000"/>
<rect x="52" y="587" width="1" height="5" fill="#000"/>
<rect x="80" y="587" width="1" height="5" fill="#000"/>
<rect x="108" y="587" width="1" height="5" fill="#000"/>
<rect x="136" y="587" width="1" height="5" fill="#000"/>
<rect x="164" y="587" width="1" height="5" fill="#000"/>
<rect x="192" y="587" width="1" height="5" fill="#000"/>
<rect x="220" y="587" width="1" height="5" fill="#000"/>
<rect x="248" y="587" width="1" height="5" fill="#000"/>
<rect x="297" y="587" width="1" height="5" fill="#000"/>
<rect x="324" y="587" width="1" height="5" fill="#000"/>
<rect x="352" y="587" width="1" height="5" fill="#000"/>
<rect x="380" y="587" width="1" height="5" fill="#000"/>
<rect x="409" y="587" width="1" height="5" fill="#000"/>
<rect x="436" y="587" width="1" height="5" fill="#000"/>
<rect x="464" y="587" width="1" height="5" fill="#000"/>
<rect x="492" y="587" width="1" height="5" fill="#000"/>
<rect x="541" y="587" width="1" height="5" fill="#000"/>
<rect x="569" y="587" width="1" height="5" fill="#000"/>
<rect x="597" y="587" width="1" height="5" fill="#000"/>
<rect x="624" y="587" width="1" height="5" fill="#000"/>
<rect x="652" y="587" width="1" height="5" fill="#000"/>
<rect x="681" y="587" width="1" height="5" fill="#000"/>
<rect x="709" y="587" width="1" height="5" fill="#000"/>
<rect x="736" y="587" width="1" height="5" fill="#000"/>
<rect x="785" y="587" width="1" height="5" fill="#000"/>
<rect x="813" y="587" width="1" height="5" fill="#000"/>
<rect x="841" y="587" width="1" height="5" fill="#000"/>
<rect x="869" y="587" width="1" height="5" fill="#000"/>
<rect x="897" y="587" width="1" height="5" fill="#000"/>
<rect x="924" y="587" width="1" height="5" fill="#000"/>
</g>
<g id="labels">
<rect x="293.5" y="9.5" width="321" height="14" fill="#fff" stroke="#000" stroke-width="1"/>
<text transform="matrix(0.9 0 0 1 295.4 22)" letter-spacing="0.944" fill="#000" id="title">AEX kwartiergrafiek maandag 2 februari 13.15u</text>
<text x="8.7" y="576.3" style="font-size:15.5px" id="copy">©</text>
<text transform="matrix(0.9 0 0 1 28.4 574)" letter-spacing="0.944" fill="#000" id="copy2">ADN Beursanalyse</text>
<text transform="matrix(0.9 0 0 1 725 70)" letter-spacing="0.944" fill="#0000ff">s</text>
<text transform="matrix(0.9 0 0 1 369 77)" letter-spacing="0.944" fill="#b0b0b0">g</text>
<text transform="matrix(0.9 0 0 1 -6.0 270)" letter-spacing="0.944" fill="#b0b0b0">up</text>
<text transform="matrix(0.9 0 0 1 794 263)" letter-spacing="0.944" fill="#000080">j'</text>
<text transform="matrix(0.9 0 0 1 800 422)" letter-spacing="0.944" fill="#000080">j</text>
</g>
</svg>
</body>
</html>
